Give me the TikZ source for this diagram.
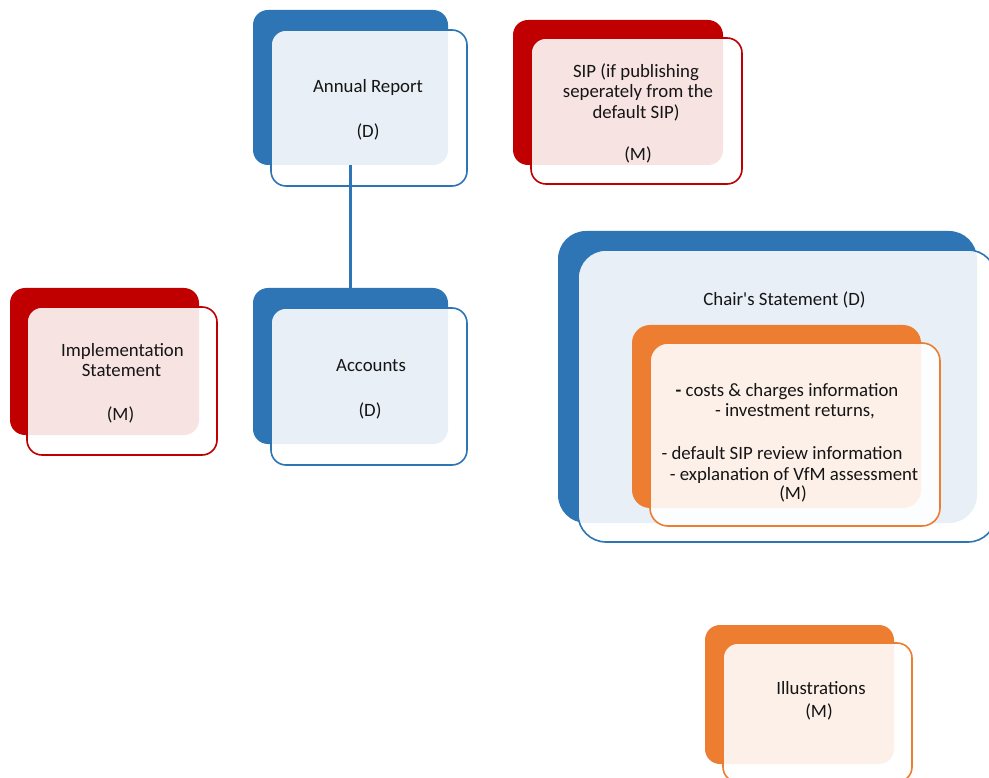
\documentclass[tikz,border=0pt]{standalone}
\usepackage{fontspec}
\setmainfont{Carlito}
\newfontfamily\cfont{Carlito}
\definecolor{dblue}{HTML}{2E75B6}
\definecolor{dred}{HTML}{C00000}
\definecolor{dorange}{HTML}{ED7D31}
\definecolor{txt}{HTML}{151515}
\begin{document}
\begin{tikzpicture}[x=1pt,y=-1pt,
  back/.style={rectangle, rounded corners=15pt, inner sep=0pt, draw=none},
  front/.style={rectangle, rounded corners=15pt, inner sep=0pt, fill=white, fill opacity=0.89, line width=1.6pt},
  lbl/.style={inner sep=0pt, text=txt, font=\cfont\fontsize{18.8}{22}\selectfont, align=center}]
\clip (0,0) rectangle (989,778);
\fill[white] (0,0) rectangle (989,778);
% Annual Report
\node[back, fill=dblue, minimum width=195pt, minimum height=155pt] (arB) at (350.5,87.5) {};
\node[front, draw=dblue, minimum width=196pt, minimum height=156pt] (arF) at (369,108) {};
\node[lbl] (arT1) at (368,87) {Annual Report};
\node[lbl] (arT2) at (368,132) {(D)};
% SIP
\node[back, fill=dred, minimum width=210pt, minimum height=145pt] (sipB) at (618,92.5) {};
\node[front, draw=dred, minimum width=211pt, minimum height=146pt] (sipF) at (636.5,111) {};
\node[lbl] (sipT1) at (636,72) {SIP (if publishing};
\node[lbl] (sipT2) at (638,92.5) {seperately from the};
\node[lbl] (sipT3) at (636,113) {default SIP)};
\node[lbl] (sipT4) at (638,155) {(M)};
% Implementation Statement
\node[back, fill=dred, minimum width=189pt, minimum height=147pt] (imB) at (104.5,361.5) {};
\node[front, draw=dred, minimum width=190pt, minimum height=148pt] (imF) at (122,381) {};
\node[lbl] (imT1) at (122.5,351) {Implementation};
\node[lbl] (imT2) at (121.5,370) {Statement};
\node[lbl] (imT3) at (120.5,415) {(M)};
% Accounts
\node[back, fill=dblue, minimum width=195pt, minimum height=156pt] (acB) at (350.5,366) {};
\node[front, draw=dblue, minimum width=196pt, minimum height=157pt] (acF) at (369,386.5) {};
\node[lbl] (acT1) at (371,366) {Accounts};
\node[lbl] (acT2) at (370,411) {(D)};
% connector
\draw[dblue, line width=2.2pt] (arB.south) -- (acB.north);
% Chair's Statement
\node[back, fill=dblue, rounded corners=28pt, minimum width=419pt, minimum height=292pt] (chB) at (767.5,377) {};
\node[front, draw=dblue, rounded corners=28pt, minimum width=418pt, minimum height=292pt] (chF) at (787,396) {};
\node[lbl] (chT) at (784.5,300) {Chair's Statement (D)};
\node[back, fill=dorange, rounded corners=18pt, minimum width=289pt, minimum height=183pt] (orB) at (776.5,416.5) {};
\node[front, draw=dorange, rounded corners=18pt, minimum width=290pt, minimum height=183pt] (orF) at (795,434.5) {};
\node[lbl] (orT1) at (787,392) {\textbf{-} costs \& charges information};
\node[lbl] (orT2) at (795,411) {- investment returns,};
\node[lbl] (orT3) at (782,453) {- default SIP review information};
\node[lbl] (orT4) at (794,475) {- explanation of VfM assessment};
\node[lbl] (orT5) at (793,494) {(M)};
% Illustrations
\node[back, fill=dorange, minimum width=189pt, minimum height=139pt] (ilB) at (799.5,694.5) {};
\node[front, draw=dorange, minimum width=189pt, minimum height=139pt] (ilF) at (817.5,712.5) {};
\node[lbl] (ilT1) at (821,688) {Illustrations};
\node[lbl] (ilT2) at (819,712) {(M)};
\end{tikzpicture}
\end{document}
